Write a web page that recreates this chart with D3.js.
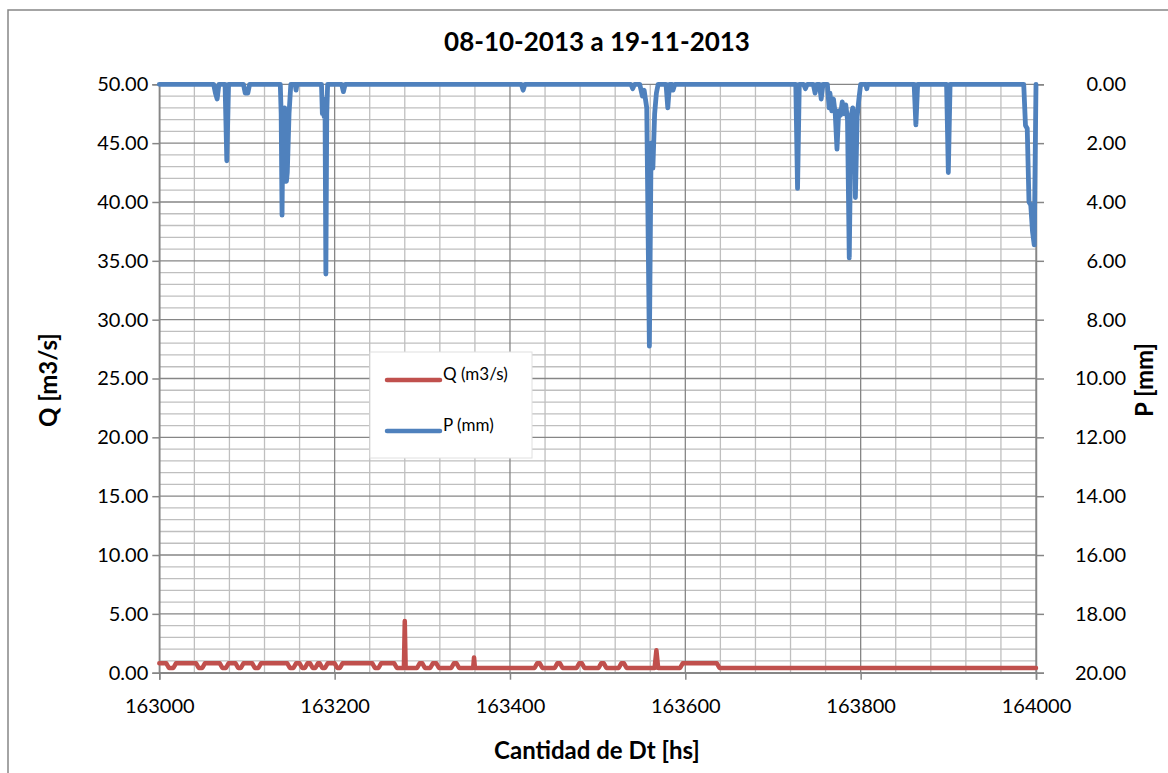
<!DOCTYPE html>
<html><head><meta charset="utf-8">
<script src="https://cdn.jsdelivr.net/npm/d3@7"></script>
<style>
body{margin:0;background:#fff}
svg{display:block}
text{font-family:Lato,'Open Sans',sans-serif;fill:#000}
</style>
</head><body>
<svg id="c" width="1168" height="773"></svg>
<script>
// ---------- data ----------
const titleText = "08-10-2013 a 19-11-2013";
const xTitle = "Cantidad de Dt [hs]";
const yLeftTitle = "Q [m3/s]";
const yRightTitle = "P [mm]";
const seriesNames = ["Q (m3/s)", "P (mm)"];

const xTicks = [163000,163200,163400,163600,163800,164000];
const qTicks = [0,5,10,15,20,25,30,35,40,45,50];
const pTicks = [0,2,4,6,8,10,12,14,16,18,20];

// Q (m3/s) breakpoints
const qX = [163000,163008,163011,163016,163019,
  163042,163045,163049,163052,
  163069,163072,163076,163079,
  163087,163090,163093,163096,
  163106,163109,163113,163116,
  163146,163149,163153,163156,
  163160,163163,163166,163169,
  163172,163175,163178,163181,
  163183,163186,163189,163192,
  163200,163203,163206,163209,
  163243,163246,163250,163253,
  163268,163271,163279,163280,163281,
  163294,163297,163300,163303,
  163309,163312,163316,163319,
  163333,163336,163339,163342,
  163358,163359,163360,
  163428,163431,163434,163437,
  163451,163454,163457,163460,
  163476,163479,163482,163485,
  163501,163504,163507,163510,
  163524,163527,163530,163533,
  163565,163567,163569,
  163594,163597,163636,163639,
  164000];
const qY = [0.8,0.8,0.4,0.4,0.8,
  0.8,0.4,0.4,0.8,
  0.8,0.4,0.4,0.8,
  0.8,0.4,0.4,0.8,
  0.8,0.4,0.4,0.8,
  0.8,0.4,0.4,0.8,
  0.8,0.4,0.4,0.8,
  0.8,0.4,0.4,0.8,
  0.8,0.4,0.4,0.8,
  0.8,0.4,0.4,0.8,
  0.8,0.4,0.4,0.8,
  0.8,0.4,0.4,4.4,0.4,
  0.4,0.8,0.8,0.4,
  0.4,0.8,0.8,0.4,
  0.4,0.8,0.8,0.4,
  0.4,1.3,0.4,
  0.4,0.8,0.8,0.4,
  0.4,0.8,0.8,0.4,
  0.4,0.8,0.8,0.4,
  0.4,0.8,0.8,0.4,
  0.4,0.8,0.8,0.4,
  0.4,1.9,0.4,
  0.4,0.8,0.8,0.4,
  0.4];

// P (mm) breakpoints
const pX = [163000,
  163062,163064,163066,163068,
  163075,163077,163079,
  163096,163098,163101,163103,
  163138,163139,163140,163141,163143,163145,163146,163148,163150,
  163155,163156,163157,
  163185,163186,163187,163188,163189,163190,163191,163192,
  163208,163210,163212,
  163413,163415,163417,
  163538,163540,163542,
  163548,163551,163553,163556,163559,163561,163563,163565,163567,163569,
  163578,163580,163582,
  163585,163586,163588,
  163726,163728,163730,
  163735,163737,163739,
  163746,163748,163750,
  163753,163755,163757,
  163762,163764,163765,163767,163769,163771,163773,163775,163777,163779,163781,163783,163785,163787,163789,163791,163793,163794,163796,163798,163800,
  163806,163807,163808,
  163861,163863,163865,
  163898,163900,163902,
  163986,163988,163990,163992,163994,163996,163998,164000];
const pY = [0,
  0,0.3,0.5,0,
  0,2.6,0,
  0,0.3,0.3,0,
  0,1.0,4.45,1.2,0.8,3.3,3.0,1.0,0,
  0,0.2,0,
  0,1.0,0.5,1.1,0.6,6.45,1.0,0,
  0,0.25,0,
  0,0.2,0,
  0,0.15,0,
  0,0.4,0.2,0.8,8.9,2.0,2.85,1.0,0.3,0,
  0,0.8,0,
  0,0.2,0,
  0,3.54,0,
  0,0.15,0,
  0,0.3,0,
  0,0.5,0,
  0,0.8,0.3,0.9,0.5,1.0,2.2,0.9,1.05,0.6,1.0,0.7,1.2,5.9,1.1,0.8,1.2,3.85,1.1,0.5,0,
  0,0.15,0,
  0,1.38,0,
  0,3.0,0,
  0,1.4,1.5,4.0,4.1,5.0,5.46,0];

// ---------- layout ----------
const W = 1168, H = 773;
const L = 159.3, R = 1036, T = 84.3, B = 672.7;
const cQ = "#C0504D", cP = "#4F81BD";
const gMinor = "#BFBFBF", gMajor = "#868686";

const svg = d3.select("#c");
svg.append("rect").attr("x",0).attr("y",0).attr("width",W).attr("height",H).attr("fill","#fff");
svg.append("rect").attr("x",8).attr("y",10).attr("width",W+20).attr("height",H+20)
  .attr("fill","none").attr("stroke","#868686").attr("stroke-width",1.5);

const x = d3.scaleLinear().domain([163000,164000]).range([L,R]);
const yQ = d3.scaleLinear().domain([0,50]).range([B,T]);
const yP = d3.scaleLinear().domain([0,20]).range([T,B]);

// grid
const grid = svg.append("g");
grid.selectAll(".vm").data(d3.range(163000,164001,40).filter(v=>v%200!==0)).join("line")
  .attr("x1",d=>x(d)).attr("x2",d=>x(d)).attr("y1",T).attr("y2",B)
  .attr("stroke",gMinor).attr("stroke-width",1.3);
grid.selectAll(".hm").data(d3.range(0,51,1).filter(v=>v%5!==0)).join("line")
  .attr("y1",d=>yQ(d)).attr("y2",d=>yQ(d)).attr("x1",L).attr("x2",R)
  .attr("stroke",gMinor).attr("stroke-width",1.3);
grid.selectAll(".vM").data(xTicks).join("line")
  .attr("x1",d=>x(d)).attr("x2",d=>x(d)).attr("y1",T).attr("y2",B)
  .attr("stroke",gMajor).attr("stroke-width",1.3);
grid.selectAll(".hM").data(qTicks).join("line")
  .attr("y1",d=>yQ(d)).attr("y2",d=>yQ(d)).attr("x1",L).attr("x2",R)
  .attr("stroke",gMajor).attr("stroke-width",1.3);

// axes
const fmt = d3.format(".2f");
const axL = svg.append("g").attr("transform",`translate(${L},0)`)
  .call(d3.axisLeft(yQ).tickValues(qTicks).tickFormat(fmt).tickSize(7).tickPadding(4));
const axR = svg.append("g").attr("transform",`translate(${R},0)`)
  .call(d3.axisRight(yP).tickValues(pTicks).tickFormat(fmt).tickSize(8).tickPadding(82));
const axB = svg.append("g").attr("transform",`translate(0,${B})`)
  .call(d3.axisBottom(x).tickValues(xTicks).tickFormat(d3.format("d")).tickSize(7).tickPadding(19));
[axL,axR,axB].forEach(a=>{
  a.select(".domain").attr("stroke",gMajor).attr("stroke-width",1.5);
  a.selectAll(".tick line").attr("stroke",gMajor).attr("stroke-width",1.5);
  a.selectAll(".tick text").style("font-size","20px").attr("fill","#000");
});
axR.selectAll(".tick text").attr("text-anchor","end");

// lines
const qData = qX.map((v,i)=>[v,qY[i]]);
const pData = pX.map((v,i)=>[v,pY[i]]);
svg.append("path").datum(qData)
  .attr("d",d3.line().x(d=>x(d[0])).y(d=>yQ(d[1])))
  .attr("fill","none").attr("stroke",cQ).attr("stroke-width",4.5)
  .attr("stroke-linejoin","round").attr("stroke-linecap","round");
svg.append("path").datum(pData)
  .attr("d",d3.line().x(d=>x(d[0])).y(d=>yP(d[1])))
  .attr("fill","none").attr("stroke",cP).attr("stroke-width",4.8)
  .attr("stroke-linejoin","round").attr("stroke-linecap","round");

// legend
const lg = svg.append("g");
lg.append("rect").attr("x",370).attr("y",352).attr("width",162).attr("height",106)
  .attr("fill","#fff").attr("stroke","#e0e0e0").attr("stroke-width",1);
[cQ,cP].forEach((c,i)=>{
  const yy = 380 + i*51;
  lg.append("line").attr("x1",387).attr("x2",440).attr("y1",yy).attr("y2",yy)
    .attr("stroke",c).attr("stroke-width",4.5).attr("stroke-linecap","round");
  lg.append("text").attr("x",443).attr("y",yy).attr("dy","-0.02em")
    .style("font-size","17px").text(seriesNames[i]);
});

// titles
svg.append("text").attr("x",597).attr("y",51).attr("text-anchor","middle")
  .style("font-size","26px").style("font-weight","bold").text(titleText);
svg.append("text").attr("x",597).attr("y",759).attr("text-anchor","middle")
  .style("font-size","24px").style("font-weight","bold").text(xTitle);
svg.append("text").attr("transform","translate(57,380) rotate(-90)").attr("text-anchor","middle")
  .style("font-size","24px").style("font-weight","bold").text(yLeftTitle);
svg.append("text").attr("transform","translate(1153,380) rotate(-90)").attr("text-anchor","middle")
  .style("font-size","24px").style("font-weight","bold").text(yRightTitle);
</script>
</body></html>
